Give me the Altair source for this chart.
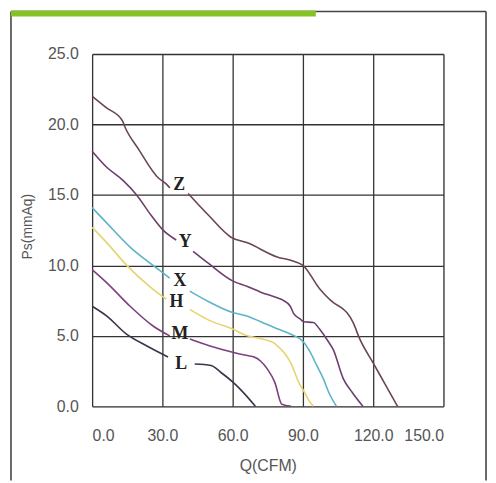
import altair as alt
import pandas as pd

# ---- data (Q in CFM, Ps in mmAq) ----
curve_names = ["Z", "Y", "X", "H", "M", "L"]
curve_colors = ["#6b4456", "#6e3f6c", "#5db4c6", "#e6d46e", "#7c4080", "#3e3249"]

z_q1 = [0, 6, 12.8, 14.2, 20, 28.3, 31.5, 33.2]
z_p1 = [22.0, 21.2, 20.3, 19.75, 18.2, 16.2, 15.8, 15.5]
z_q2 = [41, 50, 59.3, 66.3, 79, 86, 90, 97.3, 103, 107.2, 109, 111.4, 114.2, 119.9, 125, 130.4]
z_p2 = [15.1, 13.5, 12.0, 11.6, 10.6, 10.3, 10.0, 8.3, 7.35, 6.9, 6.6, 5.95, 4.8, 3.1, 1.6, 0.0]

y_q1 = [0, 6, 13.4, 19, 25, 30.3, 35.9]
y_p1 = [18.1, 17.0, 16.0, 15.0, 13.6, 12.5, 11.8]
y_q2 = [43.1, 50, 60, 66.3, 72, 79, 81.8, 84.6, 86, 88.8, 90.3, 94.5, 97, 100.1, 103, 107.2, 111, 115.6]
y_p2 = [11.0, 10.1, 8.9, 8.5, 8.1, 7.7, 7.5, 7.1, 6.6, 6.2, 6.0, 5.95, 5.5, 4.78, 4.0, 1.97, 1.0, 0.0]

x_q1 = [0, 6.3, 16.2, 26, 30, 33.1]
x_p1 = [14.1, 13.0, 11.3, 10.0, 9.5, 9.1]
x_q2 = [41.7, 50, 60, 66.3, 72, 79, 84.6, 88.8, 90.3, 93.1, 95.9, 98.7, 101, 104.3]
x_p2 = [8.17, 7.4, 6.65, 6.4, 6.0, 5.5, 5.13, 4.78, 4.54, 3.84, 2.9, 1.97, 1.0, 0.0]

h_q1 = [0, 6.3, 14.8, 24.6, 31.7]
h_p1 = [12.7, 11.6, 10.0, 8.5, 7.6]
h_q2 = [41.7, 50, 60, 66.3, 72, 77.6, 79, 82, 84.6, 88.8, 90.3, 93, 94.5]
h_p2 = [6.88, 6.1, 5.48, 5.0, 4.8, 4.5, 4.3, 3.8, 3.14, 1.5, 1.1, 0.3, 0.0]

m_q1 = [0, 6.3, 16.2, 26, 33.1]
m_p1 = [9.7, 8.76, 7.1, 5.7, 5.0]
m_q2 = [41.7, 50, 60, 66.3, 69.2, 72, 75, 78, 81, 85]
m_p2 = [4.78, 4.3, 3.84, 3.6, 3.5, 3.2, 2.6, 1.7, 0.15, 0.0]

l_q1 = [0, 6.3, 14.8, 23.2, 32.4]
l_p1 = [7.1, 6.4, 5.1, 4.3, 3.5]
l_q2 = [43.8, 50.8, 55, 60, 65, 69.7]
l_p2 = [3.0, 2.9, 2.4, 1.73, 0.9, 0.0]

label_q = [37.2, 39.7, 37.5, 36.0, 37.5, 38.0]
label_p = [15.7, 11.65, 8.9, 7.4, 5.1, 3.0]

x_ticks = [0, 30, 60, 90, 120, 150]
y_ticks = [0, 5, 10, 15, 20, 25]

segments = {
    "Z": [(z_q1, z_p1), (z_q2, z_p2)],
    "Y": [(y_q1, y_p1), (y_q2, y_p2)],
    "X": [(x_q1, x_p1), (x_q2, x_p2)],
    "H": [(h_q1, h_p1), (h_q2, h_p2)],
    "M": [(m_q1, m_p1), (m_q2, m_p2)],
    "L": [(l_q1, l_p1), (l_q2, l_p2)],
}

rows = []
for name in curve_names:
    for si, (qs, ps) in enumerate(segments[name]):
        for i, (q, p) in enumerate(zip(qs, ps)):
            rows.append({"curve": name, "seg": f"{name}{si}", "order": i, "Q": q, "Ps": p})
df = pd.DataFrame(rows)
labels = pd.DataFrame({"curve": curve_names, "Q": label_q, "Ps": label_p})

xscale = alt.Scale(domain=[0, 150], nice=False, zero=False)
yscale = alt.Scale(domain=[0, 25], nice=False, zero=False)

xaxis = alt.Axis(values=x_ticks, format=".1f", title="Q(CFM)", grid=True, gridColor="#333333",
                 gridWidth=1.3, gridOpacity=1, domain=False, ticks=False, labelFontSize=16,
                 labelColor="#555555", labelFont="Liberation Sans", labelPadding=22,
                 titleFont="Liberation Sans", titleFontSize=16, titleFontWeight="normal",
                 titleColor="#555555", titleX=177.5, titleY=60, titleBaseline="middle")
yaxis = alt.Axis(values=y_ticks, format=".1f", title="Ps(mmAq)", grid=True, gridColor="#333333",
                 gridWidth=1.3, gridOpacity=1, domain=False, ticks=False, labelFontSize=16,
                 labelColor="#555555", labelFont="Liberation Sans", labelPadding=14,
                 titleFont="Liberation Sans", titleFontSize=14, titleFontWeight="normal",
                 titleColor="#555555", titleX=-65, titleY=174, titleBaseline="middle")

color = alt.Color("curve:N", scale=alt.Scale(domain=curve_names, range=curve_colors), legend=None)

lines = alt.Chart(df).mark_line(strokeWidth=1.6, interpolate="monotone").encode(
    x=alt.X("Q:Q", scale=xscale, axis=xaxis),
    y=alt.Y("Ps:Q", scale=yscale, axis=yaxis),
    color=color,
    detail="seg:N",
    order="order:Q",
)

texts = alt.Chart(labels).mark_text(font="Liberation Serif", fontSize=18, fontWeight="bold",
                                    color="#222222", baseline="middle", align="center").encode(
    x=alt.X("Q:Q", scale=xscale),
    y=alt.Y("Ps:Q", scale=yscale),
    text="curve:N",
)

# decorative frame and green header bar (pixel positions relative to plot area)
frame = pd.DataFrame({"k": [0]})
frame_left = alt.Chart(frame).mark_rule(color="#444444", strokeWidth=1.6).encode(
    x=alt.value(-82), y=alt.value(-43), y2=alt.value(431))
frame_right = alt.Chart(frame).mark_rule(color="#444444", strokeWidth=1.6).encode(
    x=alt.value(398), y=alt.value(-43), y2=alt.value(431))
frame_top = alt.Chart(frame).mark_rule(color="#444444", strokeWidth=1.6).encode(
    x=alt.value(-82), x2=alt.value(398), y=alt.value(-43))
green = alt.Chart(frame).mark_rect(color="#84c226").encode(
    x=alt.value(-82), x2=alt.value(226), y=alt.value(-44), y2=alt.value(-38))

chart = alt.layer(lines, texts, frame_left, frame_right, frame_top, green).properties(
    width=355, height=356,
    padding={"left": 85, "top": 44, "right": 45, "bottom": 75},
    autosize=alt.AutoSizeParams(type="none"),
).configure_view(stroke="#333333", strokeWidth=1.3).configure(background="white")

chart.save("out.html", embed_options={"renderer": "svg", "actions": False})
